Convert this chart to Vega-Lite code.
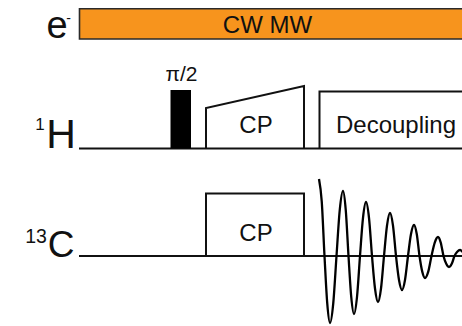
{
  "$schema": "https://vega.github.io/schema/vega-lite/v6.json",
  "width": 462,
  "height": 326,
  "padding": 0,
  "autosize": {"type": "fit", "contains": "padding"},
  "background": "white",
  "config": {"view": {"stroke": null}, "text": {"font": "Liberation Sans", "color": "#111111"}},
  "datasets": {
    "bar": [{"x": 79.5, "x2": 470, "y": 8.7, "y2": 39}],
    "pulse": [{"x": 170.5, "x2": 191, "y": 90, "y2": 148.5}],
    "paths": [
      {"g": "cpH", "i": 1, "x": 206, "y": 148.5},
      {"g": "cpH", "i": 2, "x": 206, "y": 108},
      {"g": "cpH", "i": 3, "x": 304, "y": 86},
      {"g": "cpH", "i": 4, "x": 304, "y": 148.5},
      {"g": "dec", "i": 1, "x": 319.5, "y": 148.5},
      {"g": "dec", "i": 2, "x": 319.5, "y": 91.5},
      {"g": "dec", "i": 3, "x": 470, "y": 91.5},
      {"g": "cpC", "i": 1, "x": 206, "y": 256},
      {"g": "cpC", "i": 2, "x": 206, "y": 193.5},
      {"g": "cpC", "i": 3, "x": 304, "y": 193.5},
      {"g": "cpC", "i": 4, "x": 304, "y": 256}
    ],
    "baselines": [
      {"x": 79, "x2": 470, "y": 148.5},
      {"x": 79, "x2": 470, "y": 256}
    ],
    "fid": [
      {"i": 1, "x": 319, "y": 179},
      {"i": 2, "x": 321.75, "y": 201.6},
      {"i": 3, "x": 324.5, "y": 256},
      {"i": 4, "x": 327.25, "y": 303.4},
      {"i": 5, "x": 330, "y": 323},
      {"i": 6, "x": 333.25, "y": 303.4},
      {"i": 7, "x": 336.5, "y": 256},
      {"i": 8, "x": 339.75, "y": 210},
      {"i": 9, "x": 343, "y": 191},
      {"i": 10, "x": 345.75, "y": 210},
      {"i": 11, "x": 348.5, "y": 256},
      {"i": 12, "x": 351.25, "y": 297},
      {"i": 13, "x": 354, "y": 314},
      {"i": 14, "x": 357, "y": 297},
      {"i": 15, "x": 360, "y": 256},
      {"i": 16, "x": 363, "y": 217.8},
      {"i": 17, "x": 366, "y": 202},
      {"i": 18, "x": 369, "y": 217.8},
      {"i": 19, "x": 372, "y": 256},
      {"i": 20, "x": 375, "y": 288.5},
      {"i": 21, "x": 378, "y": 302},
      {"i": 22, "x": 381, "y": 288.5},
      {"i": 23, "x": 384, "y": 256},
      {"i": 24, "x": 387, "y": 225.6},
      {"i": 25, "x": 390, "y": 213},
      {"i": 26, "x": 393, "y": 225.6},
      {"i": 27, "x": 396, "y": 256},
      {"i": 28, "x": 399, "y": 280},
      {"i": 29, "x": 402, "y": 290},
      {"i": 30, "x": 405, "y": 280},
      {"i": 31, "x": 408, "y": 256},
      {"i": 32, "x": 411, "y": 234},
      {"i": 33, "x": 414, "y": 225},
      {"i": 34, "x": 416.75, "y": 234},
      {"i": 35, "x": 419.5, "y": 256},
      {"i": 36, "x": 422.25, "y": 271.6},
      {"i": 37, "x": 425, "y": 278},
      {"i": 38, "x": 428.25, "y": 271.6},
      {"i": 39, "x": 431.5, "y": 256},
      {"i": 40, "x": 434.75, "y": 242.6},
      {"i": 41, "x": 438, "y": 237},
      {"i": 42, "x": 440.75, "y": 242.6},
      {"i": 43, "x": 443.5, "y": 256},
      {"i": 44, "x": 446.25, "y": 263.8},
      {"i": 45, "x": 449, "y": 267},
      {"i": 46, "x": 451.75, "y": 263.8},
      {"i": 47, "x": 454.5, "y": 256},
      {"i": 48, "x": 457.25, "y": 251.8},
      {"i": 49, "x": 460, "y": 250},
      {"i": 50, "x": 462.5, "y": 251.8},
      {"i": 51, "x": 465, "y": 256},
      {"i": 52, "x": 470, "y": 259}
    ],
    "labels": [
      {"t": "CW MW", "x": 267.5, "y": 32.7, "s": 24, "a": "center"},
      {"t": "e", "x": 57, "y": 37.5, "s": 38, "a": "center"},
      {"t": "-", "x": 68.5, "y": 23.3, "s": 14, "a": "left"},
      {"t": "π/2", "x": 181.5, "y": 81, "s": 21, "a": "center"},
      {"t": "1", "x": 40, "y": 130, "s": 17, "a": "center"},
      {"t": "H", "x": 61, "y": 148, "s": 41, "a": "center"},
      {"t": "CP", "x": 256, "y": 133.3, "s": 24, "a": "center"},
      {"t": "Decoupling", "x": 396, "y": 133.3, "s": 24, "a": "center"},
      {"t": "13", "x": 36, "y": 243, "s": 19.5, "a": "center"},
      {"t": "C", "x": 61, "y": 256.5, "s": 37, "a": "center"},
      {"t": "CP", "x": 256, "y": 241, "s": 24, "a": "center"}
    ]
  },
  "encoding": {
    "x": {"field": "x", "type": "quantitative", "scale": {"domain": [0, 462], "nice": false, "zero": false}, "axis": null},
    "y": {"field": "y", "type": "quantitative", "scale": {"domain": [0, 326], "nice": false, "zero": false, "reverse": true}, "axis": null}
  },
  "layer": [
    {
      "data": {"name": "bar"},
      "mark": {"type": "rect", "fill": "#F7941D", "stroke": "#2a2a2a", "strokeWidth": 1.6, "clip": true},
      "encoding": {"x2": {"field": "x2"}, "y2": {"field": "y2"}}
    },
    {
      "data": {"name": "baselines"},
      "mark": {"type": "rule", "stroke": "#111111", "strokeWidth": 2.2, "clip": true},
      "encoding": {"x2": {"field": "x2"}}
    },
    {
      "data": {"name": "pulse"},
      "mark": {"type": "rect", "fill": "#000000"},
      "encoding": {"x2": {"field": "x2"}, "y2": {"field": "y2"}}
    },
    {
      "data": {"name": "paths"},
      "mark": {"type": "line", "stroke": "#111111", "strokeWidth": 2, "clip": true, "strokeJoin": "miter"},
      "encoding": {"detail": {"field": "g"}, "order": {"field": "i", "type": "quantitative"}}
    },
    {
      "data": {"name": "fid"},
      "mark": {"type": "line", "stroke": "#000000", "strokeWidth": 2.3, "clip": true, "interpolate": "monotone"},
      "encoding": {"order": {"field": "i", "type": "quantitative"}}
    },
    {
      "data": {"name": "labels"},
      "mark": {"type": "text", "baseline": "alphabetic"},
      "encoding": {
        "text": {"field": "t"},
        "size": {"field": "s", "type": "quantitative", "scale": null},
        "align": {"field": "a", "scale": null}
      }
    }
  ]
}
